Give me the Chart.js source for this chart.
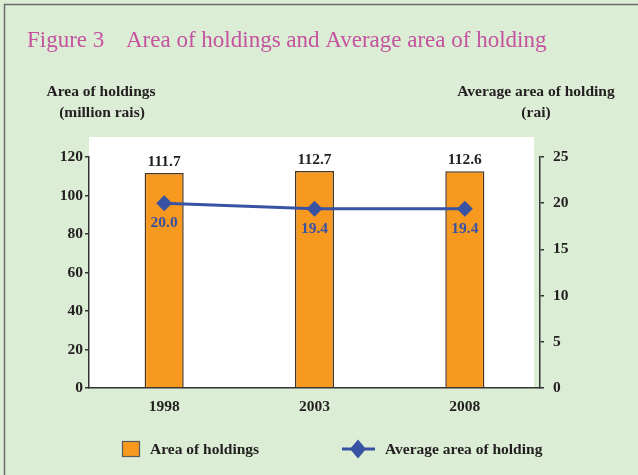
<!DOCTYPE html>
<html>
<head>
<meta charset="utf-8">
<script src="https://cdn.jsdelivr.net/npm/chart.js@4.4.0/dist/chart.umd.min.js"></script>
<style>
    html, body { margin: 0; padding: 0; background: #dcedd6; }
    #wrap { width: 638px; height: 475px; overflow: hidden; }
</style>
</head>
<body>
<div id="wrap"><canvas id="chart" width="638" height="475"></canvas></div>
<script>
// data
const years = ['1998', '2003', '2008'];
const holdingArea = [111.7, 112.7, 112.6];   // million rais
const avgArea = [20.0, 19.4, 19.4];          // rai
const leftTicks = [0, 20, 40, 60, 80, 100, 120];
const rightTicks = [0, 5, 10, 15, 20, 25];

const serif = '"Liberation Serif", "DejaVu Serif", serif';
const darkText = '#231f20';
const barOrange = '#f7991f';
const lineBlue = '#3953a4';

// background, titles, legend
const decorPlugin = {
    id: 'decor',
    beforeDraw(chart) {
        const ctx = chart.ctx;
        const a = chart.chartArea;
        ctx.save();
        ctx.fillStyle = '#dcedd6';
        ctx.fillRect(0, 0, chart.width, chart.height);
        // white plot panel
        ctx.fillStyle = '#ffffff';
        ctx.fillRect(a.left, 137, a.right - 6 - a.left, a.bottom - 137);
        // page border
        ctx.strokeStyle = '#6b6b6b';
        ctx.lineWidth = 1.5;
        ctx.beginPath();
        ctx.moveTo(4.5, chart.height);
        ctx.lineTo(4.5, 4.5);
        ctx.lineTo(chart.width, 4.5);
        ctx.stroke();
        ctx.restore();
    },
    afterDraw(chart) {
        const ctx = chart.ctx;
        ctx.save();
        // title
        ctx.fillStyle = '#c4529f';
        ctx.font = '23px ' + serif;
        ctx.textAlign = 'left';
        ctx.textBaseline = 'alphabetic';
        ctx.fillText('Figure 3', 27, 47);
        ctx.fillText('Area of holdings and Average area of holding', 126, 47);

        // axis titles
        ctx.fillStyle = darkText;
        ctx.font = 'bold 15.5px ' + serif;
        ctx.textAlign = 'center';
        ctx.fillText('Area of holdings', 101, 96);
        ctx.fillText('(million rais)', 102, 117);
        ctx.fillText('Average area of holding', 536, 96);
        ctx.fillText('(rai)', 536, 117);

        // legend
        ctx.fillStyle = barOrange;
        ctx.fillRect(122, 441, 17, 15);
        ctx.strokeStyle = '#5a5a5a';
        ctx.lineWidth = 1.2;
        ctx.strokeRect(122.5, 441.5, 17, 15);
        ctx.strokeStyle = lineBlue;
        ctx.lineWidth = 3;
        ctx.beginPath();
        ctx.moveTo(342, 449);
        ctx.lineTo(375, 449);
        ctx.stroke();
        ctx.fillStyle = lineBlue;
        ctx.beginPath();
        ctx.moveTo(358, 439.5);
        ctx.lineTo(366, 449);
        ctx.lineTo(358, 458.5);
        ctx.lineTo(350, 449);
        ctx.closePath();
        ctx.fill();

        ctx.fillStyle = darkText;
        ctx.font = 'bold 15.5px ' + serif;
        ctx.textAlign = 'left';
        ctx.textBaseline = 'middle';
        ctx.fillText('Area of holdings', 150, 450);
        ctx.fillText('Average area of holding', 385, 450);
        ctx.restore();
    },
    afterDatasetsDraw(chart) {
        const ctx = chart.ctx;
        ctx.save();
        ctx.font = 'bold 15.5px ' + serif;
        ctx.textAlign = 'center';
        // bar value labels
        const barMeta = chart.getDatasetMeta(1);
        ctx.fillStyle = darkText;
        ctx.textBaseline = 'alphabetic';
        barMeta.data.forEach((el, i) => {
            ctx.fillText(holdingArea[i].toFixed(1), el.x, el.y - 7);
        });
        // line value labels
        const lineMeta = chart.getDatasetMeta(0);
        ctx.fillStyle = lineBlue;
        ctx.textBaseline = 'middle';
        lineMeta.data.forEach((el, i) => {
            ctx.fillText(avgArea[i].toFixed(1), el.x, el.y + 20);
        });
        ctx.restore();
    }
};

new Chart(document.getElementById('chart'), {
    data: {
        labels: years,
        datasets: [{
            type: 'line',
            label: 'Average area of holding',
            data: avgArea,
            yAxisID: 'y1',
            borderColor: lineBlue,
            backgroundColor: lineBlue,
            borderWidth: 3,
            pointStyle: 'rectRot',
            pointRadius: 8,
            pointBorderWidth: 0,
            tension: 0,
            order: 0
        }, {
            type: 'bar',
            label: 'Area of holdings',
            data: holdingArea,
            yAxisID: 'y',
            backgroundColor: barOrange,
            borderColor: '#4a3520',
            borderWidth: 1.5,
            barPercentage: 0.26,
            categoryPercentage: 1,
            order: 1
        }]
    },
    options: {
        responsive: false,
        animation: false,
        layout: { padding: { top: 157, left: 0, right: 0, bottom: 0 } },
        plugins: {
            legend: { display: false },
            tooltip: { enabled: false }
        },
        scales: {
            x: {
                grid: { drawOnChartArea: false, drawTicks: false },
                border: { color: '#333333', width: 1.5 },
                ticks: {
                    color: darkText,
                    font: { family: serif, size: 15.5, weight: 'bold' },
                    padding: 10
                },
                afterFit(scale) { scale.height = 87; }
            },
            y: {
                position: 'left',
                min: 0,
                max: 120,
                afterBuildTicks(scale) { scale.ticks = leftTicks.map(v => ({ value: v })); },
                grid: { drawOnChartArea: false, tickLength: 4, color: '#333333', lineWidth: 1.5 },
                border: { color: '#333333', width: 1.5 },
                ticks: {
                    color: darkText,
                    font: { family: serif, size: 15.5, weight: 'bold' },
                    padding: 2
                },
                afterFit(scale) { scale.width = 89; }
            },
            y1: {
                position: 'right',
                min: 0,
                max: 25,
                afterBuildTicks(scale) { scale.ticks = rightTicks.map(v => ({ value: v })); },
                grid: { drawOnChartArea: false, tickLength: 4, color: '#333333', lineWidth: 1.5 },
                border: { color: '#333333', width: 1.5 },
                ticks: {
                    color: darkText,
                    font: { family: serif, size: 15.5, weight: 'bold' },
                    padding: 9
                },
                afterFit(scale) { scale.width = 98; }
            }
        }
    },
    plugins: [decorPlugin]
});
</script>
</body>
</html>
